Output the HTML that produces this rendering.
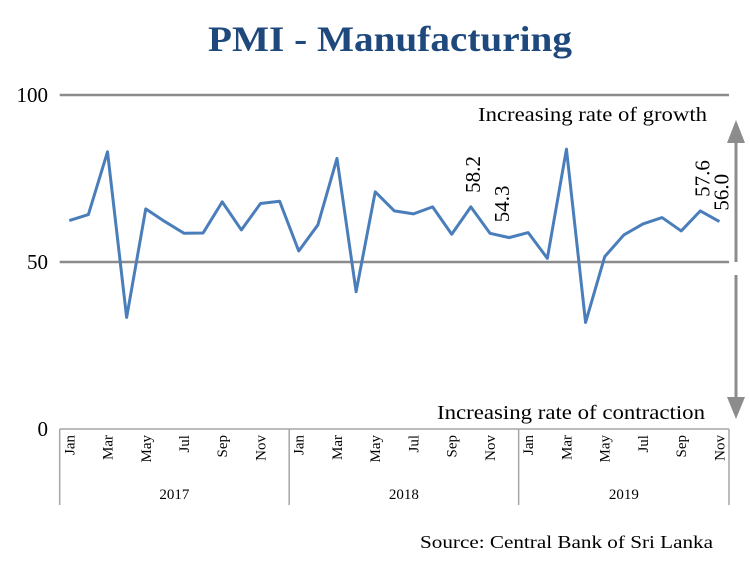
<!DOCTYPE html>
<html><head><meta charset="utf-8"><style>
body{margin:0;background:#fff;}
svg text{font-family:"Liberation Serif",serif;}
</style></head><body>
<svg width="750" height="558" viewBox="0 0 750 558" id="chart">
<text x="208" y="51" textLength="364" lengthAdjust="spacingAndGlyphs" font-size="36" font-weight="bold" fill="#1f497d">PMI - Manufacturing</text>
<g id="grid"></g>
<g id="axis"></g>
<g id="series"></g>
<g id="ann"></g>
<text x="478" y="121" textLength="229" lengthAdjust="spacingAndGlyphs" font-size="20" fill="#000">Increasing rate of growth</text>
<text x="437" y="419" textLength="268" lengthAdjust="spacingAndGlyphs" font-size="20" fill="#000">Increasing rate of contraction</text>
<g>
<line x1="736" y1="262" x2="736" y2="140" stroke="#8c8c8c" stroke-width="3"/>
<polygon points="736,120 727,143 745,143" fill="#8c8c8c"/>
</g>
<g>
<line x1="736" y1="275" x2="736" y2="400" stroke="#8c8c8c" stroke-width="3"/>
<polygon points="736,419 727,397 745,397" fill="#8c8c8c"/>
</g>
<text x="420" y="548" textLength="293" lengthAdjust="spacingAndGlyphs" font-size="18" fill="#000">Source: Central Bank of Sri Lanka</text>
</svg>
<script>
const months=["Jan","Feb","Mar","Apr","May","Jun","Jul","Aug","Sep","Oct","Nov","Dec","Jan","Feb","Mar","Apr","May","Jun","Jul","Aug","Sep","Oct","Nov","Dec","Jan","Feb","Mar","Apr","May","Jun","Jul","Aug","Sep","Oct","Nov"];
const years=["2017","2018","2019"];
const pmi=[62.4,64.2,83.0,33.4,65.9,62.1,58.6,58.7,68.0,59.6,67.5,68.2,53.3,61.1,81.0,41.1,71.0,65.3,64.4,66.5,58.3,66.5,58.6,57.3,58.8,51.1,83.8,31.9,51.6,58.1,61.4,63.3,59.3,65.3,62.1];
const yTicks=[0,50,100];
const annIdx=[21,22,33,34];
const annText=["58.2","54.3","57.6","56.0"];
const NS="http://www.w3.org/2000/svg";
const L=59.7,R=729,T=95,B=429;
const step=(R-L)/months.length;
const xs=i=>L+step*(i+0.5);
const ys=v=>B-(v/100)*(B-T);
function mk(tag,attrs,parent,txt){const e=document.createElementNS(NS,tag);for(const k in attrs)e.setAttribute(k,attrs[k]);if(txt!==undefined)e.textContent=txt;document.getElementById(parent).appendChild(e);return e;}
yTicks.forEach(v=>{
  if(v>0){const g=mk('line',{x1:L,x2:R,y1:ys(v),y2:ys(v),stroke:'#8c8c8c','stroke-width':2.5},'grid');
  
  }
  const t=mk('text',{x:48,y:ys(v)+7,'text-anchor':'end','font-size':21},'grid',String(v));
  
  
});
const ax=mk('line',{x1:L,x2:R,y1:B,y2:B,stroke:'#a6a6a6','stroke-width':1.5},'axis');


for(let y=0;y<=years.length;y++){
  const i=Math.min(y*12,months.length);
  const x=L+step*i;
  const s=mk('line',{x1:x,x2:x,y1:B,y2:505,stroke:'#a6a6a6','stroke-width':1.5},'axis');
  
  
}
years.forEach((yr,y)=>{
  const a=L+step*y*12,b=L+step*Math.min(y*12+12,months.length);
  const t=mk('text',{x:(a+b)/2,y:499,'text-anchor':'middle','font-size':15},'axis',yr);
  
  
});
months.forEach((m,i)=>{
  if(i%2!==0)return;
  const x=xs(i)+5,y=435;
  const t=mk('text',{x:x,y:y,'text-anchor':'end','font-size':15,transform:`rotate(-90 ${x} ${y})`},'axis',m);
  
  
});
const p=mk('polyline',{points:pmi.map((v,i)=>xs(i)+','+ys(v)).join(' '),fill:'none',stroke:'#4a7ebb','stroke-width':3,'stroke-linejoin':'round'},'series');


annIdx.forEach((idx,k)=>{
  const x=xs(idx)+(k===1?19:9),y=ys(pmi[idx])-(k%2?11:14);
  const t=mk('text',{x:x,y:y,'font-size':21,transform:`rotate(-90 ${x} ${y})`},'ann',annText[k]);
  
  
});
</script>
</body></html>
